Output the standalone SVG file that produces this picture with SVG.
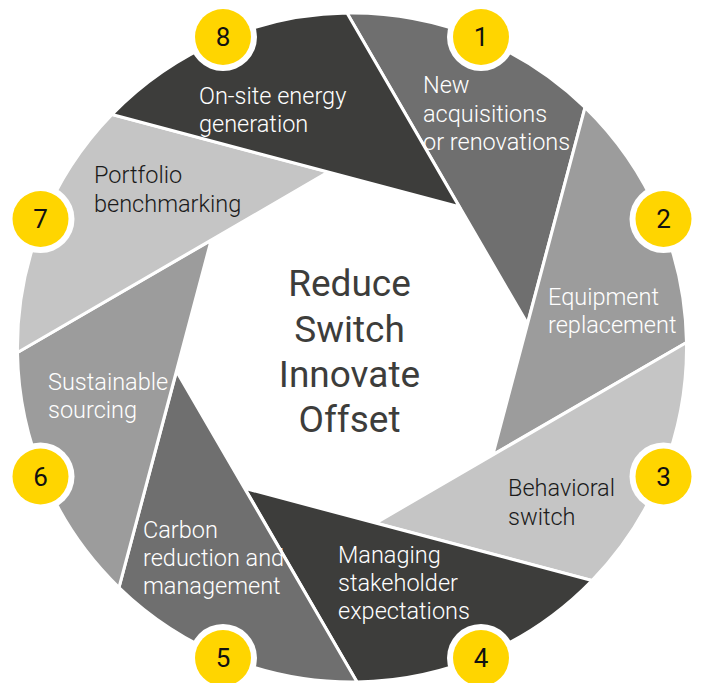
<svg xmlns="http://www.w3.org/2000/svg" width="701" height="683" viewBox="0 0 701 683">
  <style>
    .seg { stroke: #ffffff; stroke-width: 3; stroke-linejoin: miter; }
    .c1 { fill: #6f6f6f; }
    .c2 { fill: #9c9c9c; }
    .c3 { fill: #c5c5c5; }
    .c4 { fill: #3d3d3b; }
    .lbl { font-family: Roboto, "Liberation Sans", sans-serif; font-weight: 300; font-size: 23.5px; }
    .w { fill: #ffffff; }
    .k { fill: #1a1a1a; }
    .ring { fill: #ffffff; }
    .dot { fill: #ffd500; }
    .num { font-family: Roboto, "Liberation Sans", sans-serif; font-size: 26px; fill: #111111; text-anchor: middle; }
    .center { font-family: Roboto, "Liberation Sans", sans-serif; font-size: 37px; fill: #3d3d3b; text-anchor: middle; }
  </style>
  <rect width="701" height="683" fill="#ffffff"/>

  <g id="blade-1">
    <path class="seg c1" d="M347.0,13.0 A334.5,334.5 0 0 1 585.0,107.5 L527.4,323.6 Z"/>
    <text class="lbl w" x="423" y="93">New</text>
    <text class="lbl w" x="423" y="121.5">acquisitions</text>
    <text class="lbl w" x="423" y="150">or renovations</text>
  </g>
  <g id="blade-2">
    <path class="seg c2" d="M585.0,107.5 A334.5,334.5 0 0 1 686.5,342.5 L492.9,454.6 Z"/>
    <text class="lbl w" x="548" y="305">Equipment</text>
    <text class="lbl w" x="548" y="333">replacement</text>
  </g>
  <g id="blade-3">
    <path class="seg c3" d="M686.5,342.5 A334.5,334.5 0 0 1 592.0,580.5 L375.9,522.9 Z"/>
    <text class="lbl k" x="508" y="496">Behavioral</text>
    <text class="lbl k" x="508" y="525">switch</text>
  </g>
  <g id="blade-4">
    <path class="seg c4" d="M592.0,580.5 A334.5,334.5 0 0 1 357.0,682.0 L244.9,488.4 Z"/>
    <text class="lbl w" x="338" y="563">Managing</text>
    <text class="lbl w" x="338" y="591">stakeholder</text>
    <text class="lbl w" x="338" y="619">expectations</text>
  </g>
  <g id="blade-5">
    <path class="seg c1" d="M357.0,682.0 A334.5,334.5 0 0 1 119.0,587.5 L176.6,371.4 Z"/>
    <text class="lbl w" x="143" y="538">Carbon</text>
    <text class="lbl w" x="143" y="566">reduction and</text>
    <text class="lbl w" x="143" y="594">management</text>
  </g>
  <g id="blade-6">
    <path class="seg c2" d="M119.0,587.5 A334.5,334.5 0 0 1 17.5,352.5 L211.1,240.4 Z"/>
    <text class="lbl w" x="48" y="390">Sustainable</text>
    <text class="lbl w" x="48" y="418">sourcing</text>
  </g>
  <g id="blade-7">
    <path class="seg c3" d="M17.5,352.5 A334.5,334.5 0 0 1 112.0,114.5 L328.1,172.1 Z"/>
    <text class="lbl k" x="94" y="183">Portfolio</text>
    <text class="lbl k" x="94" y="212">benchmarking</text>
  </g>
  <g id="blade-8">
    <path class="seg c4" d="M112.0,114.5 A334.5,334.5 0 0 1 347.0,13.0 L459.1,206.6 Z"/>
    <text class="lbl w" x="199" y="104">On-site energy</text>
    <text class="lbl w" x="199" y="132">generation</text>
  </g>

  <g id="center">
    <text class="center" x="349.5" y="296">Reduce</text>
    <text class="center" x="349.5" y="341.5">Switch</text>
    <text class="center" x="349.5" y="387">Innovate</text>
    <text class="center" x="349.5" y="432">Offset</text>
  </g>

  <g id="badge-1"><circle class="ring" cx="481" cy="37" r="34"/><circle class="dot" cx="481" cy="37" r="28"/><text class="num" x="481" y="46">1</text></g>
  <g id="badge-2"><circle class="ring" cx="663.5" cy="219" r="34"/><circle class="dot" cx="663.5" cy="219" r="28"/><text class="num" x="663.5" y="228">2</text></g>
  <g id="badge-3"><circle class="ring" cx="663.5" cy="476.5" r="34"/><circle class="dot" cx="663.5" cy="476.5" r="28"/><text class="num" x="663.5" y="485.5">3</text></g>
  <g id="badge-4"><circle class="ring" cx="481" cy="658" r="34"/><circle class="dot" cx="481" cy="658" r="28"/><text class="num" x="481" y="667">4</text></g>
  <g id="badge-5"><circle class="ring" cx="223" cy="658" r="34"/><circle class="dot" cx="223" cy="658" r="28"/><text class="num" x="223" y="667">5</text></g>
  <g id="badge-6"><circle class="ring" cx="40.5" cy="476.5" r="34"/><circle class="dot" cx="40.5" cy="476.5" r="28"/><text class="num" x="40.5" y="485.5">6</text></g>
  <g id="badge-7"><circle class="ring" cx="40.5" cy="219" r="34"/><circle class="dot" cx="40.5" cy="219" r="28"/><text class="num" x="40.5" y="228">7</text></g>
  <g id="badge-8"><circle class="ring" cx="223" cy="37" r="34"/><circle class="dot" cx="223" cy="37" r="28"/><text class="num" x="223" y="46">8</text></g>
</svg>
